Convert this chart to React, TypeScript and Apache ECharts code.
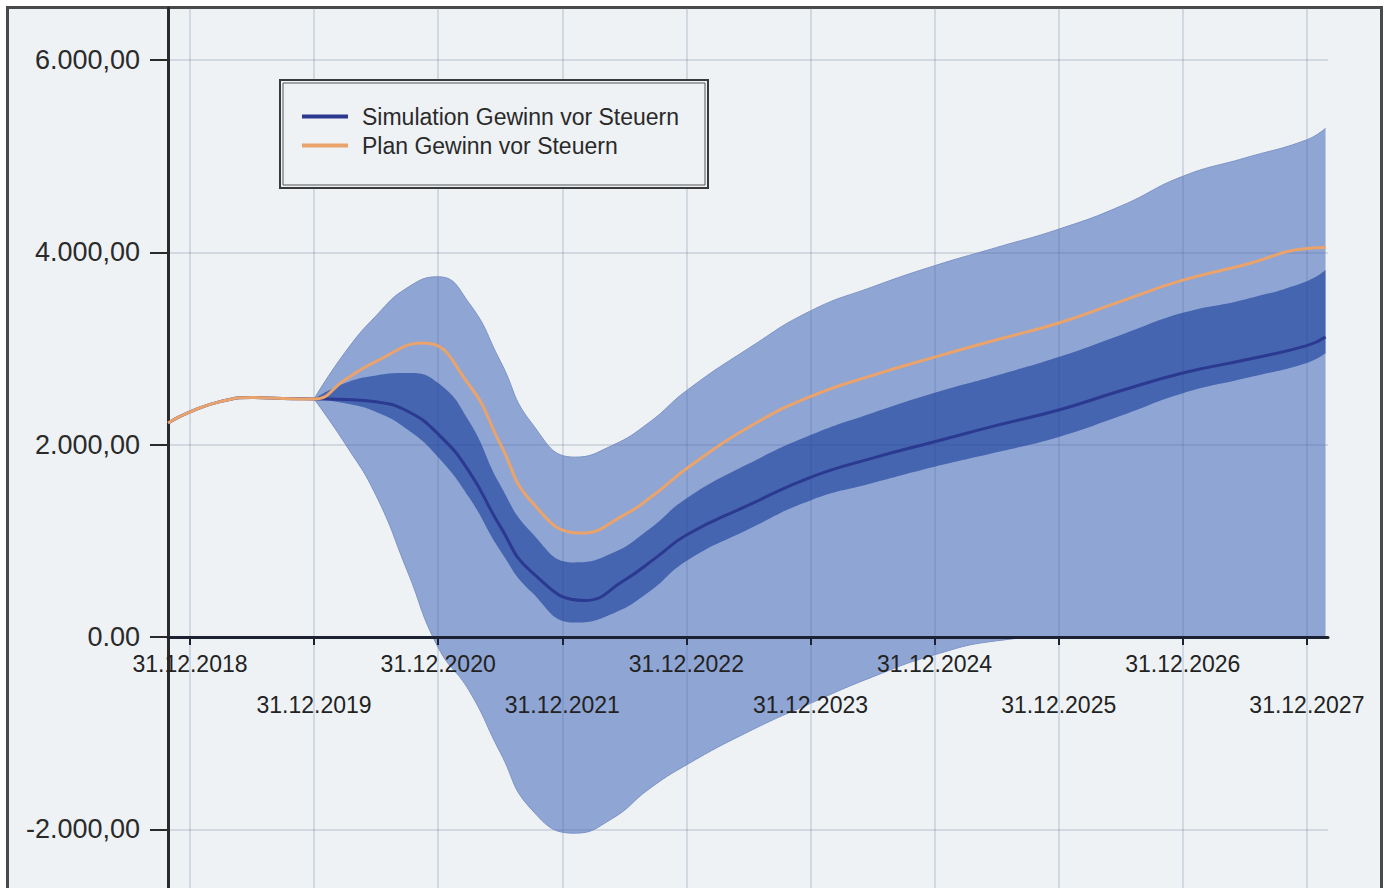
import React, { useEffect, useRef } from 'react';
import * as echarts from 'echarts';

// Historical (pre-simulation) values, shared by both lines
const histYears = [2017.823, 2018, 2018.25, 2018.5, 2018.75];
const histValues = [2225, 2340, 2450, 2490, 2480];

// Simulation bands (shared x positions for upper/lower bounds)
const bandYears = [2019, 2019.25, 2019.5, 2019.75, 2020, 2020.25, 2020.5, 2020.75, 2021.1, 2021.4, 2021.7, 2022, 2022.5, 2023, 2023.5, 2024, 2024.5, 2025, 2025.5, 2026, 2026.5, 2027, 2027.15];
const lightUpper = [2475, 2960, 3340, 3630, 3745, 3470, 2870, 2230, 1870, 1990, 2230, 2560, 3000, 3390, 3640, 3860, 4050, 4240, 4480, 4790, 4980, 5170, 5290];
const lightLower = [2475, 2010, 1470, 690, -110, -560, -1200, -1790, -2040, -1890, -1580, -1330, -985, -690, -415, -185, -40, 0, 0, 0, 0, 0, 0];
const darkUpper = [2475, 2640, 2720, 2745, 2640, 2240, 1580, 1090, 775, 870, 1120, 1440, 1800, 2100, 2330, 2540, 2720, 2910, 3140, 3370, 3510, 3700, 3815];
const darkLower = [2475, 2430, 2340, 2160, 1870, 1450, 900, 470, 150, 240, 470, 790, 1120, 1420, 1600, 1770, 1920, 2080, 2300, 2535, 2690, 2850, 2950];

// Simulation (median) line
const simYears = [2019, 2019.25, 2019.5, 2019.75, 2020, 2020.25, 2020.5, 2020.75, 2021.18, 2021.5, 2021.75, 2022, 2022.5, 2023, 2023.5, 2024, 2024.5, 2025, 2025.5, 2026, 2026.5, 2027, 2027.15];
const simValues = [2475, 2470, 2445, 2350, 2110, 1720, 1150, 680, 380, 590, 820, 1060, 1370, 1660, 1860, 2030, 2200, 2360, 2560, 2745, 2880, 3030, 3120];

// Plan line
const planYears = [2019, 2019.25, 2019.5, 2019.88, 2020.25, 2020.5, 2020.75, 2021.15, 2021.5, 2021.75, 2022, 2022.5, 2023, 2023.5, 2024, 2024.5, 2025, 2025.5, 2026, 2026.5, 2027, 2027.15];
const planValues = [2475, 2675, 2866, 3056, 2620, 2010, 1410, 1080, 1270, 1490, 1750, 2180, 2500, 2720, 2910, 3090, 3265, 3490, 3710, 3870, 4040, 4050];

const xTickYears = [2018, 2019, 2020, 2021, 2022, 2023, 2024, 2025, 2026, 2027];
const yTickValues = [-2000, 0, 2000, 4000, 6000];

const SIM_NAME = 'Simulation Gewinn vor Steuern';
const PLAN_NAME = 'Plan Gewinn vor Steuern';

function fmtY(v: number): string {
  if (v === 0) return '0.00';
  const neg = v < 0;
  const a = Math.abs(Math.round(v));
  const s = a.toString().replace(/\B(?=(\d{3})+(?!\d))/g, '.');
  return (neg ? '-' : '') + s + ',00';
}

const pairs = (xs: number[], vs: number[]) => xs.map((x, i) => [vs[i], x]);

export default function App() {
  const ref = useRef<HTMLDivElement>(null);
  useEffect(() => {
    if (!ref.current) return;
    const chart = echarts.init(ref.current, undefined, { renderer: 'svg' });
    const lightDiff = lightUpper.map((v, i) => v - lightLower[i]);
    const darkDiff = darkUpper.map((v, i) => v - darkLower[i]);
    const smooth = 0.5;
    const font = '"Liberation Sans", Arial, sans-serif';
    const xMin = 2017.823;
    const xMax = 2027.17;
    const gridLine = { color: 'rgba(110,125,145,0.22)', width: 2 };
    const common = { smooth, showSymbol: false, encode: { x: 1, y: 0 } };
    const option: any = {
      animation: false,
      backgroundColor: 'transparent',
      grid: [
        { left: 168, right: 61, top: 8, bottom: 0, containLabel: false, outerBoundsMode: 'none' },
        { left: 168, right: 61, top: 8, height: 629, containLabel: false, outerBoundsMode: 'none' },
      ],
      xAxis: [
        {
          type: 'value', gridIndex: 0, min: xMin, max: xMax,
          axisLine: { show: false },
          axisTick: { show: false, customValues: xTickYears },
          axisLabel: { show: false, customValues: xTickYears },
          splitLine: { show: true, lineStyle: gridLine },
        },
        {
          type: 'value', gridIndex: 1, min: xMin, max: xMax, z: 10,
          axisLine: { show: true, onZero: false, lineStyle: { color: '#1d2233', width: 3 } },
          axisTick: { show: true, customValues: xTickYears, length: 8, lineStyle: { color: '#1d2233', width: 2 } },
          axisLabel: {
            customValues: xTickYears,
            margin: 6,
            fontFamily: font,
            fontSize: 23,
            color: '#222222',
            lineHeight: 41,
            formatter: (v: number) => {
              const y = Math.round(v);
              const t = '31.12.' + y;
              return y % 2 === 1 ? '\n' + t : t;
            },
          },
          splitLine: { show: false },
        },
      ],
      yAxis: [
        {
          type: 'value', gridIndex: 0, min: -2610, max: 6540,
          axisLine: { show: true, onZero: false, lineStyle: { color: '#2a2a2a', width: 3 } },
          axisTick: { show: true, customValues: yTickValues, length: 18, lineStyle: { color: '#2a2a2a', width: 2 } },
          axisLabel: {
            customValues: yTickValues,
            margin: 28,
            fontFamily: font,
            fontSize: 27,
            color: '#2a2a2a',
            formatter: (v: number) => fmtY(v),
          },
          splitLine: { show: true, lineStyle: gridLine },
        },
        { type: 'value', gridIndex: 1, min: 0, max: 6540, show: false },
      ],
      legend: {
        show: true,
        orient: 'vertical',
        left: 302,
        top: 102,
        padding: 0,
        itemGap: 0,
        itemWidth: 46,
        itemHeight: 4,
        z: 60,
        selectedMode: false,
        data: [
          { name: SIM_NAME, icon: 'rect' },
          { name: PLAN_NAME, icon: 'rect' },
        ],
        textStyle: { fontFamily: font, fontSize: 23, color: '#2a2a2a', lineHeight: 29, padding: [0, 0, 0, 9] },
      },
      graphic: [
        { type: 'rect', z: 50, shape: { x: 280, y: 80, width: 428, height: 108 }, style: { fill: '#eef2f5', stroke: '#3a3a3a', lineWidth: 2 } },
        { type: 'rect', z: 51, shape: { x: 283, y: 83, width: 422, height: 102 }, style: { fill: 'none', stroke: '#555555', lineWidth: 1 } },
      ],
      series: [
        {
          name: 'lightLower', type: 'line', stack: 'light', stackStrategy: 'all',
          data: pairs(bandYears, lightLower), ...common, silent: true, z: 2,
          lineStyle: { width: 1, color: '#7d93c8' },
        },
        {
          name: 'lightBand', type: 'line', stack: 'light', stackStrategy: 'all',
          data: pairs(bandYears, lightDiff), ...common, silent: true, z: 2,
          lineStyle: { width: 1, color: '#7d93c8' },
          areaStyle: { color: 'rgba(65,102,183,0.55)', opacity: 1 },
        },
        {
          name: 'darkLower', type: 'line', stack: 'dark', stackStrategy: 'all',
          data: pairs(bandYears, darkLower), ...common, silent: true, z: 3,
          lineStyle: { width: 0, opacity: 0 },
        },
        {
          name: 'darkBand', type: 'line', stack: 'dark', stackStrategy: 'all',
          data: pairs(bandYears, darkDiff), ...common, silent: true, z: 3,
          lineStyle: { width: 0, opacity: 0 },
          areaStyle: { color: 'rgba(29,66,157,0.65)', opacity: 1 },
        },
        {
          name: SIM_NAME, type: 'line',
          data: pairs(histYears.concat(simYears), histValues.concat(simValues)), ...common, z: 4,
          color: '#2b3990',
          lineStyle: { width: 3, color: '#2b3990' },
        },
        {
          name: PLAN_NAME, type: 'line',
          data: pairs(histYears.concat(planYears), histValues.concat(planValues)), ...common, z: 5,
          color: '#eba36c',
          lineStyle: { width: 3, color: '#eba36c' },
        },
      ],
    };
    chart.setOption(option);
    return () => chart.dispose();
  }, []);

  return (
    <div style={{ position: 'fixed', left: 0, top: 0, width: 1389, height: 888, background: '#ffffff', overflow: 'hidden' }}>
      <div style={{ position: 'absolute', left: 6, top: 6, width: 1377, height: 900, boxSizing: 'border-box', border: '3px solid #4a4a4a', background: '#eef2f5' }} />
      <div ref={ref} style={{ position: 'absolute', left: 0, top: 0, width: 1389, height: 888 }} />
    </div>
  );
}
